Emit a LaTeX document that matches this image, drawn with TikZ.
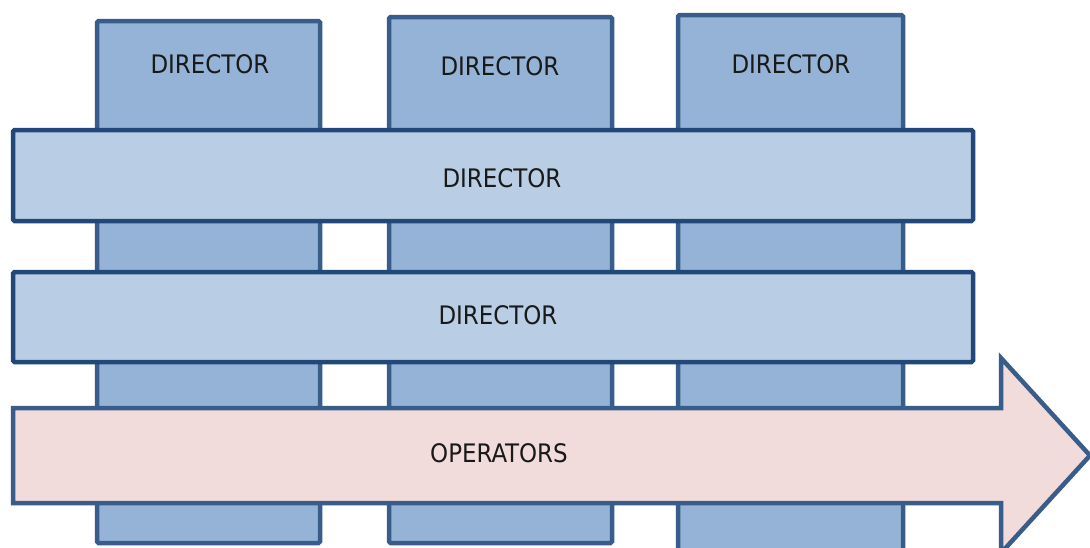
\documentclass[tikz,border=0pt]{standalone}
\usepackage{fontspec}
\setmainfont{DejaVu Sans Condensed}
\definecolor{colfill}{HTML}{95B3D7}
\definecolor{barfill}{HTML}{B9CDE5}
\definecolor{arrfill}{HTML}{F2DCDB}
\definecolor{colline}{HTML}{385D8A}
\definecolor{barline}{HTML}{22487A}
\begin{document}
\begin{tikzpicture}[x=1pt,y=-1pt,
  colbox/.style={draw=colline,fill=colfill,line width=4.5pt,rounded corners=1.5pt},
  barbox/.style={draw=barline,fill=barfill,line width=4.5pt,rounded corners=1.5pt},
  arrbox/.style={draw=colline,fill=arrfill,line width=4.5pt,line join=miter},
  lbl/.style={font=\fontsize{25.5}{30}\selectfont,text=black!90,inner sep=0pt}]
\useasboundingbox[fill=white] (0,0) rectangle (1090,547);
% columns
\path[colbox] (97,21) rectangle (320,543);
\path[colbox] (389,17) rectangle (612,543);
\path[colbox] (678,15) rectangle (903,560);
\node[lbl] (c1) at (210,64) {DIRECTOR};
\node[lbl] (c2) at (500,66) {DIRECTOR};
\node[lbl] (c3) at (791,64) {DIRECTOR};
% bars
\path[barbox] (13,130) rectangle (973,221);
\node[lbl] (b1) at (502,178) {DIRECTOR};
\path[barbox] (13,272) rectangle (973,362);
\node[lbl] (b2) at (498,315) {DIRECTOR};
% arrow
\path[arrbox] (13,408) -- (1001,408) -- (1001,358) -- (1090,455.5) -- (1001,553) -- (1001,503) -- (13,503) -- cycle;
\node[lbl] (op) at (499,453) {OPERATORS};
\end{tikzpicture}
\end{document}
